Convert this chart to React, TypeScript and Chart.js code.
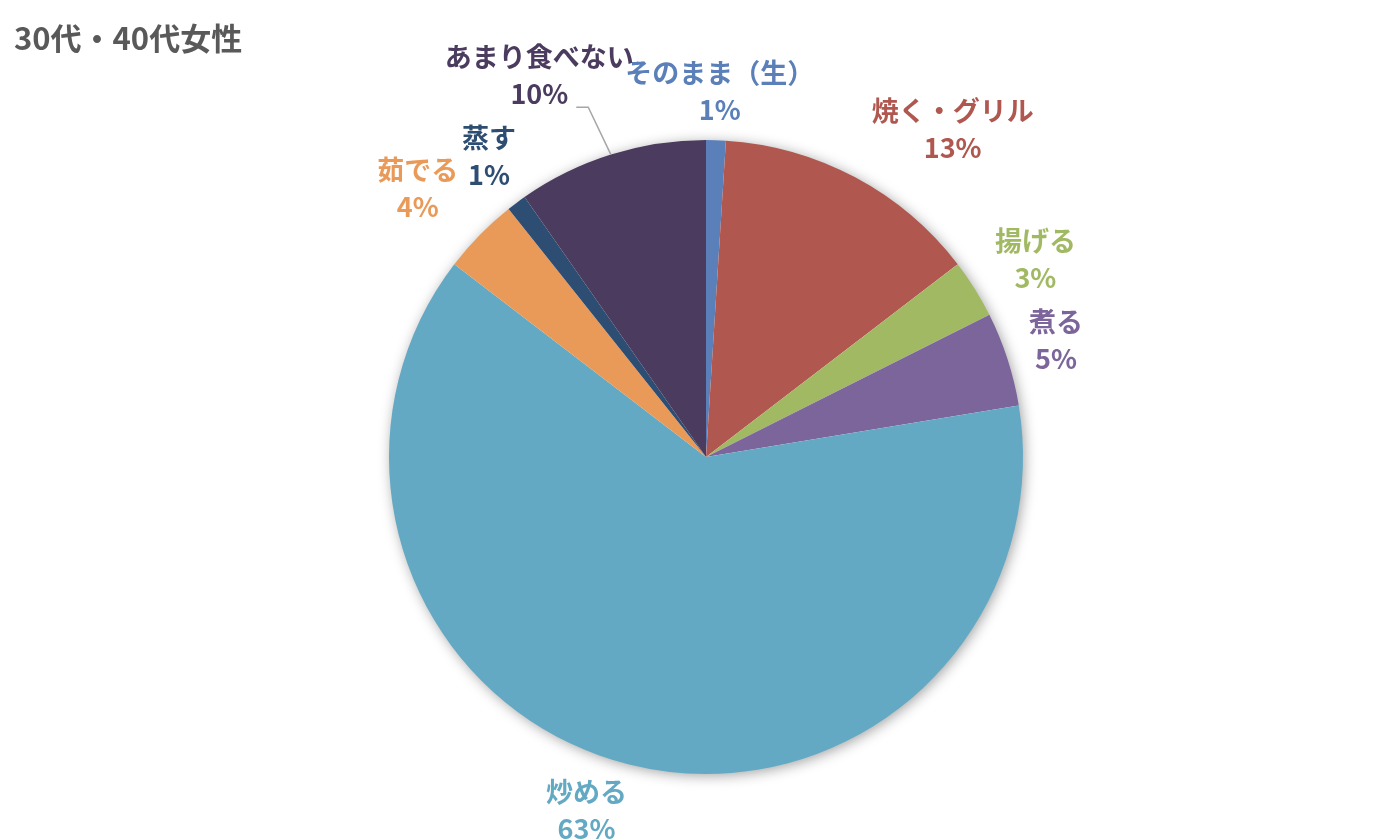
import React, { useEffect, useRef } from "react";
import { Chart, registerables } from "chart.js";

Chart.register(...registerables);

// dữ liệu
const categories = ["そのまま（生）", "焼く・グリル", "揚げる", "煮る", "炒める", "茹でる", "蒸す", "あまり食べない"];
const shares = [1.0, 13.6, 3.0, 4.8, 63.0, 3.9, 1.0, 9.7];
const percentLabels = ["1%", "13%", "3%", "5%", "63%", "4%", "1%", "10%"];
const sliceColors = ["#5B80B9", "#B0574F", "#A2B964", "#7B659B", "#64A9C3", "#EA9A58", "#2E4D72", "#4B3B5F"];

// nhãn: dịch chuyển nhỏ so với vị trí mặc định, và có đường dẫn hay không
const labelNudge = [[0, 7], [48, 1], [6, 0], [0, -2], [-27, -8], [-16, -8], [3, -2], [-36, -26]];
const leaderLine = [false, false, false, false, false, false, false, true];

const FONT = 'bold 27px "Noto Sans CJK JP", "Noto Sans", sans-serif';
const LINE_GAP = 37;
const LABEL_GAP = 24;

const pieShadow = {
    id: "pieShadow",
    beforeDatasetsDraw(chart: any) {
        const arc = chart.getDatasetMeta(0).data[0];
        if (!arc) return;
        const { x, y, outerRadius } = arc.getProps(["x", "y", "outerRadius"], true);
        const ctx = chart.ctx;
        ctx.save();
        ctx.shadowColor = "rgba(0,0,0,0.4)";
        ctx.shadowBlur = 14;
        ctx.shadowOffsetX = 2;
        ctx.shadowOffsetY = 2;
        ctx.fillStyle = "#ffffff";
        ctx.beginPath();
        ctx.arc(x, y, outerRadius - 1, 0, Math.PI * 2);
        ctx.fill();
        ctx.restore();
    },
};

const outsideLabels = {
    id: "outsideLabels",
    afterDatasetsDraw(chart: any) {
        const ctx = chart.ctx;
        const meta = chart.getDatasetMeta(0);
        ctx.save();
        ctx.font = FONT;
        ctx.textAlign = "center";
        ctx.textBaseline = "middle";
        meta.data.forEach((arc: any, i: number) => {
            const { x, y, startAngle, endAngle, outerRadius } = arc.getProps(
                ["x", "y", "startAngle", "endAngle", "outerRadius"],
                true
            );
            const mid = (startAngle + endAngle) / 2;
            const ux = Math.cos(mid);
            const uy = Math.sin(mid);
            const w = Math.max(ctx.measureText(categories[i]).width, ctx.measureText(percentLabels[i]).width);
            const h = LINE_GAP + 26;
            const ax = x + (outerRadius + LABEL_GAP) * ux;
            const ay = y + (outerRadius + LABEL_GAP) * uy;
            const cx = ax + (ux * w) / 2 + labelNudge[i][0];
            const cy = ay + (uy * h) / 2 + labelNudge[i][1];

            if (leaderLine[i]) {
                const pw = ctx.measureText(percentLabels[i]).width;
                const endX = cx + pw / 2 + 8;
                const endY = cy + h / 2;
                ctx.strokeStyle = "#A6A6A6";
                ctx.lineWidth = 1.5;
                ctx.beginPath();
                ctx.moveTo(x + outerRadius * ux, y + outerRadius * uy);
                ctx.lineTo(endX + 12, endY);
                ctx.lineTo(endX, endY);
                ctx.stroke();
            }

            ctx.fillStyle = sliceColors[i];
            ctx.fillText(categories[i], cx, cy - LINE_GAP / 2);
            ctx.fillText(percentLabels[i], cx, cy + LINE_GAP / 2);
        });
        ctx.restore();
    },
};

const App = () => {
    const chartRef = useRef<HTMLCanvasElement | null>(null);

    useEffect(() => {
        if (!chartRef.current) return;
        const ctx = chartRef.current.getContext("2d");
        if (!ctx) return;
        const chart = new Chart(ctx, {
            type: "pie",
            data: {
                labels: categories,
                datasets: [
                    {
                        data: shares,
                        backgroundColor: sliceColors,
                        borderWidth: 0,
                    },
                ],
            },
            options: {
                responsive: false,
                animation: false,
                layout: { padding: { left: 389, right: 377, top: 140, bottom: 66 } },
                plugins: {
                    legend: { display: false },
                    tooltip: { enabled: false },
                },
            },
            plugins: [pieShadow, outsideLabels],
        });
        return () => {
            chart.destroy();
        };
    }, []);

    return (
        <div style={{ position: "fixed", left: 0, top: 0, width: 1400, height: 840, background: "#fff" }}>
            <canvas ref={chartRef} width={1400} height={840}></canvas>
            <div
                style={{
                    position: "absolute",
                    left: 14,
                    top: 19,
                    fontFamily: '"Noto Sans CJK JP", "Noto Sans", sans-serif',
                    fontWeight: "bold",
                    fontSize: 31,
                    lineHeight: "36px",
                    color: "#595959",
                }}
            >
                30代・40代女性
            </div>
        </div>
    );
};

export default App;
